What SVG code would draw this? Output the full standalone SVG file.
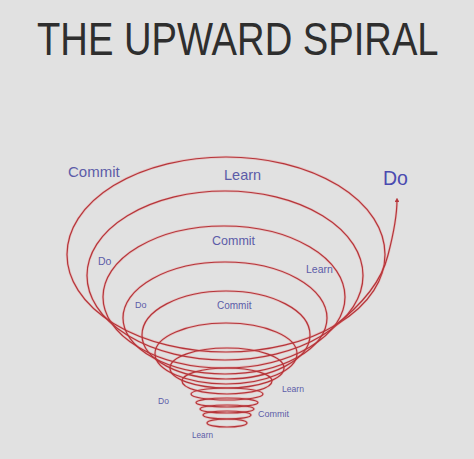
<svg xmlns="http://www.w3.org/2000/svg" xmlns:xlink="http://www.w3.org/1999/xlink" width="474" height="459" viewBox="0 0 474 459">
  <defs>
    <style>
      .title { font-family: "Liberation Sans", Arial, sans-serif; fill: #2e2e2e; }
      .lbl { font-family: "Liberation Sans", Arial, sans-serif; fill: #5c5ca8; }
      .big { fill: #4a4ab0; }
      .loop { fill: none; stroke: #b5353a; stroke-width: 1.2; }
      .glow { fill: none; stroke: #f07070; stroke-width: 2.6; stroke-opacity: 0.28; }
    </style>
    <marker id="tip" viewBox="0 0 6 6" refX="3" refY="3" markerWidth="4" markerHeight="4" orient="auto">
      <path d="M0,0 L6,3 L0,6 z" fill="#b5353a"/>
    </marker>
    <g id="shapes">
      <ellipse cx="226" cy="254.5" rx="159" ry="97.5"/>
      <ellipse cx="225" cy="275.5" rx="138" ry="84.5"/>
      <ellipse cx="224" cy="297" rx="121" ry="71"/>
      <ellipse cx="225" cy="318" rx="102" ry="56"/>
      <ellipse cx="226" cy="335" rx="84" ry="44"/>
      <ellipse cx="226" cy="353.5" rx="71" ry="30.5"/>
      <ellipse cx="227" cy="368" rx="57" ry="20"/>
      <ellipse cx="227" cy="381" rx="45" ry="13"/>
      <ellipse cx="227" cy="394" rx="36" ry="6"/>
      <ellipse cx="227" cy="402.5" rx="31" ry="4.5"/>
      <ellipse cx="227" cy="409" rx="27" ry="4"/>
      <ellipse cx="227" cy="415" rx="24" ry="4"/>
      <ellipse cx="227" cy="423" rx="20" ry="4"/>
    </g>
  </defs>
  <rect width="474" height="459" fill="#e1e1e1"/>
  <text class="title" transform="translate(37,55) scale(0.83,1)" x="0" y="0" font-size="46">THE UPWARD SPIRAL</text>

  <g id="spiral">
    <use class="glow" xlink:href="#shapes" href="#shapes"/>
    <use class="loop" xlink:href="#shapes" href="#shapes"/>
  </g>
  <g id="connectors">
    <path class="glow" d="M333,327 C362,305 382,280 388,255 C394,232 397,214 397,200"/>
    <path class="loop" d="M333,327 C362,305 382,280 388,255 C394,232 397,214 397,200" marker-end="url(#tip)"/>
  </g>

  <g id="labels">
    <text class="lbl" x="68" y="177" font-size="15">Commit</text>
    <text class="lbl" x="224" y="180" font-size="14.5">Learn</text>
    <text class="lbl big" x="383" y="185" font-size="19.5">Do</text>
    <text class="lbl" x="212" y="245" font-size="12.5">Commit</text>
    <text class="lbl" x="98" y="265" font-size="10.5">Do</text>
    <text class="lbl" x="306" y="273" font-size="10.5">Learn</text>
    <text class="lbl" x="135" y="308" font-size="9">Do</text>
    <text class="lbl" x="217" y="309" font-size="10">Commit</text>
    <text class="lbl" x="282" y="392" font-size="8.6">Learn</text>
    <text class="lbl" x="158" y="404" font-size="8.5">Do</text>
    <text class="lbl" x="258" y="417" font-size="9">Commit</text>
    <text class="lbl" x="192" y="438" font-size="8.2">Learn</text>
  </g>
</svg>
